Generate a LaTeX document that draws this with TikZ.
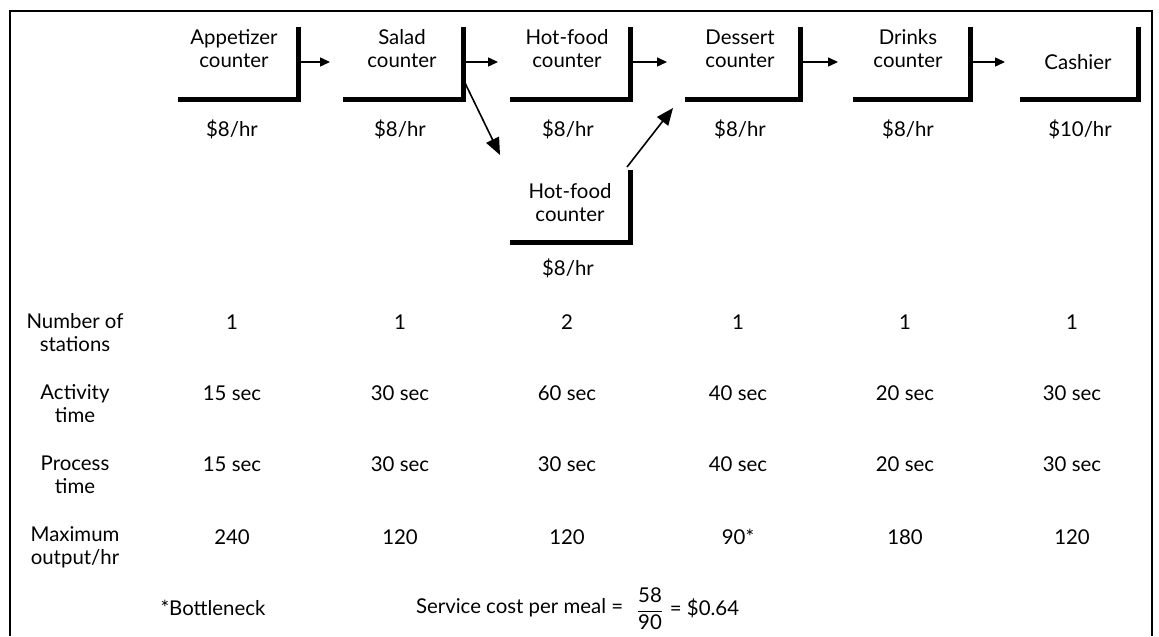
\documentclass[tikz,border=0pt]{standalone}
\usepackage{amsmath}
\usepackage{fontspec}
\setmainfont{Lato}
\usetikzlibrary{arrows.meta}

\begin{document}
\begin{tikzpicture}[x=0.5pt,y=0.5pt,yscale=-1,xscale=1,
  txt/.style={inner sep=0.75pt,align=center,font=\fontsize{10.2}{11.5}\selectfont},
  bar/.style={line width=2.5pt},
  flow/.style={line width=0.7pt,-{Triangle[length=5pt,width=4.5pt]}},
  jump/.style={line width=0.8pt,-{Triangle[length=8.5pt,width=7pt]}}]
\useasboundingbox (0,0) rectangle (1159,636);

%Frame
\draw [line width=1.3pt]  (10,636) -- (10,11) -- (1152,11) -- (1152,636) ;

%Counters (bottom and right side)
\draw [bar]  (178,100) -- (298,100) -- (298,27) ;
\draw [bar]  (343,100) -- (463,100) -- (463,27) ;
\draw [bar]  (510,100) -- (630,100) -- (630,27) ;
\draw [bar]  (685,100) -- (800,100) -- (800,27) ;
\draw [bar]  (853,100) -- (970,100) -- (970,27) ;
\draw [bar]  (1020,100) -- (1138,100) -- (1138,27) ;
\draw [bar]  (510,242) -- (630,242) -- (630,170) ;

% Text Node
\node [txt] (app) at (234,49) {Appetizer\\counter};
\node [txt] (sal) at (402,49) {Salad\\counter};
\node [txt] (hot) at (567,49) {Hot-food\\counter};
\node [txt] (des) at (740,49) {Dessert\\counter};
\node [txt] (dri) at (908,49) {Drinks\\counter};
\node [txt] (cas) at (1078,62) {Cashier};
\node [txt] (hotb) at (570,203) {Hot-food\\counter};

% Wages
\node [txt] (appw) at (232,129) {\$8/hr};
\node [txt] (salw) at (400,129) {\$8/hr};
\node [txt] (hotw) at (568,129) {\$8/hr};
\node [txt] (desw) at (740,129) {\$8/hr};
\node [txt] (driw) at (908,129) {\$8/hr};
\node [txt] (casw) at (1080,129) {\$10/hr};
\node [txt] (hotbw) at (568,268) {\$8/hr};

%Flow
\coordinate (app-out) at (298,62);
\coordinate (sal-in) at (330,62);
\coordinate (sal-out) at (463,62);
\coordinate (hot-in) at (498,62);
\coordinate (hot-out) at (630,62);
\coordinate (des-in) at (667,62);
\coordinate (des-out) at (800,62);
\coordinate (dri-in) at (838,62);
\coordinate (dri-out) at (970,62);
\coordinate (cas-in) at (1005,62);
\draw [flow] (app-out) -- (sal-in) ;
\draw [flow] (sal-out) -- (hot-in) ;
\draw [flow] (hot-out) -- (des-in) ;
\draw [flow] (des-out) -- (dri-in) ;
\draw [flow] (dri-out) -- (cas-in) ;
\coordinate (sal-c) at (465,83);
\coordinate (hotb-in) at (500,155);
\coordinate (hotb-out) at (627,167);
\coordinate (des-c) at (673,108);
\draw [jump] (sal-c) -- (hotb-in) ;
\draw [jump] (hotb-out) -- (des-c) ;

% Table
\node [txt] (l1) at (75,333) {Number of\\stations};
\node [txt] (l2) at (75,404) {Activity\\time};
\node [txt] (l3) at (75,475) {Process\\time};
\node [txt] (l4) at (75,547) {Maximum\\output/hr};

\foreach \c/\x in {a/232,b/400,c/567,d/738,e/905,f/1072}{
  \coordinate (col-\c) at (\x,0);
}
\foreach \c/\v in {a/1,b/1,c/2,d/1,e/1,f/1}
  \node [txt] (n-\c) at (col-\c |- 0,322) {\v};
\foreach \c/\v in {a/15,b/30,c/60,d/40,e/20,f/30}
  \node [txt] (t-\c) at (col-\c |- 0,393) {\v\ sec};
\foreach \c/\v in {a/15,b/30,c/30,d/40,e/20,f/30}
  \node [txt] (p-\c) at (col-\c |- 0,464) {\v\ sec};
\foreach \c/\v in {a/240,b/120,c/120,d/90*,e/180,f/120}
  \node [txt] (m-\c) at (col-\c |- 0,537) {\v};

% Footer
\node [txt] (note) at (213,608) {*Bottleneck};
\node [txt,anchor=east] (cost) at (625,608) {Service cost per meal =};
\node [txt] (frac) at (650,609) {$\dfrac{\text{58}}{\text{90}}$};
\node [txt,anchor=west] (res) at (668,608) {= \$0.64};

\end{tikzpicture}
\end{document}
